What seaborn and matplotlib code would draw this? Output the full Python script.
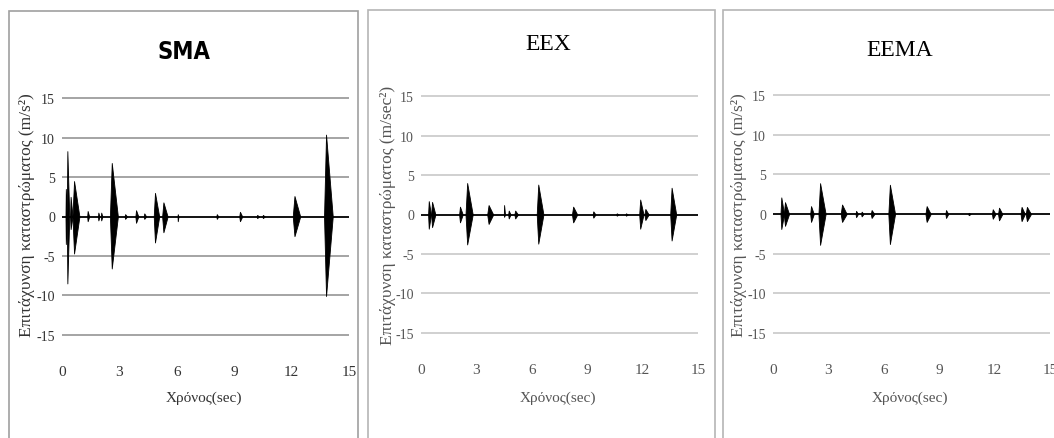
import numpy as np
import pandas as pd
import seaborn as sns
import matplotlib
matplotlib.use("Agg")
import matplotlib.pyplot as plt
from matplotlib.patches import Rectangle

# ---------------- data ----------------
panel_titles = ["SMA", "EEX", "EEMA"]
y_labels = ["Επιτάχυνση καταστρώματος (m/s²)",
            "Επιτάχυνση καταστρώματος (m/sec²)",
            "Επιτάχυνση καταστρώματος (m/s²)"]
x_label = "Χρόνος(sec)"
x_ticks = [0, 3, 6, 9, 12, 15]
y_ticks = [-15, -10, -5, 0, 5, 10, 15]

# bursts: peak time (s), positive peak, negative peak, decay length (s)
sma_time = [0.20, 0.28, 0.45, 0.63, 1.34, 1.90, 2.05, 2.60, 3.30, 3.87, 4.30,
            4.86, 5.30, 6.05, 8.09, 9.30, 10.20, 10.50, 12.15, 13.80]
sma_up   = [3.5, 8.3, 2.5, 4.5, 0.7, 0.5, 0.5, 6.8, 0.3, 0.8, 0.4,
            3.0, 1.8, 0.3, 0.3, 0.6, 0.2, 0.2, 2.6, 10.4]
sma_down = [-3.5, -8.5, -1.6, -4.7, -0.6, -0.5, -0.5, -6.6, -0.3, -0.8, -0.3,
            -3.3, -2.0, -0.6, -0.3, -0.6, -0.2, -0.2, -2.5, -10.1]
sma_len  = [0.06, 0.10, 0.10, 0.28, 0.08, 0.06, 0.06, 0.32, 0.10, 0.12, 0.10,
            0.22, 0.22, 0.04, 0.08, 0.12, 0.10, 0.10, 0.30, 0.35]

eex_time = [0.42, 0.60, 2.11, 2.50, 3.66, 4.50, 4.75, 5.10, 6.35, 8.24, 9.33,
            10.60, 11.10, 11.87, 12.15, 13.57]
eex_up   = [1.7, 1.6, 1.0, 4.0, 1.2, 1.2, 0.5, 0.5, 3.8, 1.0, 0.4,
            0.15, 0.15, 1.9, 0.7, 3.4]
eex_down = [-1.8, -1.6, -1.0, -3.8, -1.2, -0.3, -0.5, -0.5, -3.7, -1.0, -0.4,
            -0.15, -0.15, -1.8, -0.7, -3.3]
eex_len  = [0.12, 0.18, 0.15, 0.30, 0.25, 0.05, 0.10, 0.15, 0.28, 0.22, 0.12,
            0.10, 0.10, 0.18, 0.18, 0.25]

eema_time = [0.45, 0.65, 2.06, 2.55, 3.74, 4.50, 4.80, 5.34, 6.33, 8.32, 9.37,
             10.60, 11.90, 12.24, 13.46, 13.75]
eema_up   = [2.1, 1.5, 1.0, 3.9, 1.2, 0.4, 0.3, 0.5, 3.7, 1.0, 0.5,
             0.15, 0.6, 0.8, 0.9, 0.9]
eema_down = [-1.9, -1.5, -1.0, -3.9, -1.0, -0.4, -0.3, -0.5, -3.8, -1.0, -0.5,
             -0.15, -0.6, -0.8, -0.9, -0.9]
eema_len  = [0.15, 0.22, 0.15, 0.30, 0.25, 0.10, 0.10, 0.15, 0.28, 0.22, 0.12,
             0.10, 0.15, 0.18, 0.18, 0.22]

baseline_time = [0, 15]
baseline_acc = [0, 0]

series = [
    (sma_time, sma_up, sma_down, sma_len),
    (eex_time, eex_up, eex_down, eex_len),
    (eema_time, eema_up, eema_down, eema_len),
]

# ---------------- styling / layout ----------------
sns.set_theme(style="white")
plt.rcParams["font.family"] = ["Liberation Serif", "DejaVu Serif"]

W, H = 1054, 439
fig = plt.figure(figsize=(W / 100, H / 100), dpi=100)
fig.patch.set_facecolor("white")

def fx(px):
    return px / W

def fy(py):
    return 1 - py / H

# axes rectangles in pixels: left, right, top, bottom
axes_px = [(62, 349, 97, 338), (421, 698, 95, 336), (773, 1050, 94, 336)]
boxes_px = [(9, 358, 12, 445), (368, 715, 11, 445), (723, 1080, 11, 445)]
grid_cols = ["#8c8c8c", "#c4c4c4", "#c4c4c4"]
text_cols = ["#333333", "#555555", "#555555"]
box_cols = ["#a0a0a0", "#b5b5b5", "#b5b5b5"]
title_pos = [(184, 52), (548, 45), (900, 50)]
title_fonts = [["DejaVu Sans"], ["Liberation Serif"], ["Liberation Serif"]]
title_sizes = [17, 17, 17]
title_stretch = ["condensed", "normal", "normal"]
title_weight = ["bold", "normal", "normal"]
ylabel_x = [27, 388, 739]
ylabel_sizes = [12.5, 12.5, 12.5]

for i in range(3):
    l, r, t, b = boxes_px[i]
    fig.patches.append(Rectangle((fx(l), fy(b)), fx(r - l), (b - t) / H,
                                 transform=fig.transFigure, fill=False,
                                 edgecolor=box_cols[i], linewidth=1.2))

for i in range(3):
    l, r, t, b = axes_px[i]
    ax = fig.add_axes([fx(l), fy(b), fx(r - l), (b - t) / H])
    ax.set_facecolor("none")
    times, ups, downs, lens = series[i]

    for g in y_ticks:
        if g != 0:
            ax.axhline(g, color=grid_cols[i], lw=1.1, zorder=1)

    for t0, up, dn, ln in zip(times, ups, downs, lens):
        rise = 0.3 * ln
        xs = [t0 - rise, t0, t0 + ln]
        ax.fill_between(xs, [0, up, 0], [0, dn, 0], color="black",
                        lw=0.6, edgecolor="black", zorder=3)

    sns.lineplot(x=baseline_time, y=baseline_acc, ax=ax, color="black",
                 lw=1.3, zorder=4)

    ax.set_xlim(0, 15)
    ax.set_ylim(-15.3, 15.3)
    ax.set_xticks(x_ticks)
    ax.set_yticks(y_ticks)
    ax.set_xticklabels([str(v) for v in x_ticks])
    ax.set_yticklabels([str(v) for v in y_ticks])
    ax.tick_params(axis="x", length=0, pad=20, labelsize=11,
                   labelcolor=text_cols[i])
    ax.tick_params(axis="y", length=0, pad=5, labelsize=10,
                   labelcolor=text_cols[i])
    for s in ax.spines.values():
        s.set_visible(False)
    ax.grid(False)

    fig.text(fx(title_pos[i][0]), fy(title_pos[i][1]), panel_titles[i],
             ha="center", va="center", fontsize=title_sizes[i],
             family=title_fonts[i], fontstretch=title_stretch[i],
             fontweight=title_weight[i], color="black")
    fig.text(fx((l + r) / 2 - 2), fy(398), x_label, ha="center", va="center",
             fontsize=11, color=text_cols[i])
    fig.text(fx(ylabel_x[i]), fy(215), y_labels[i], ha="center", va="center",
             rotation=90, fontsize=ylabel_sizes[i], color=text_cols[i])

fig.savefig("out.png", dpi=100, facecolor="white")
